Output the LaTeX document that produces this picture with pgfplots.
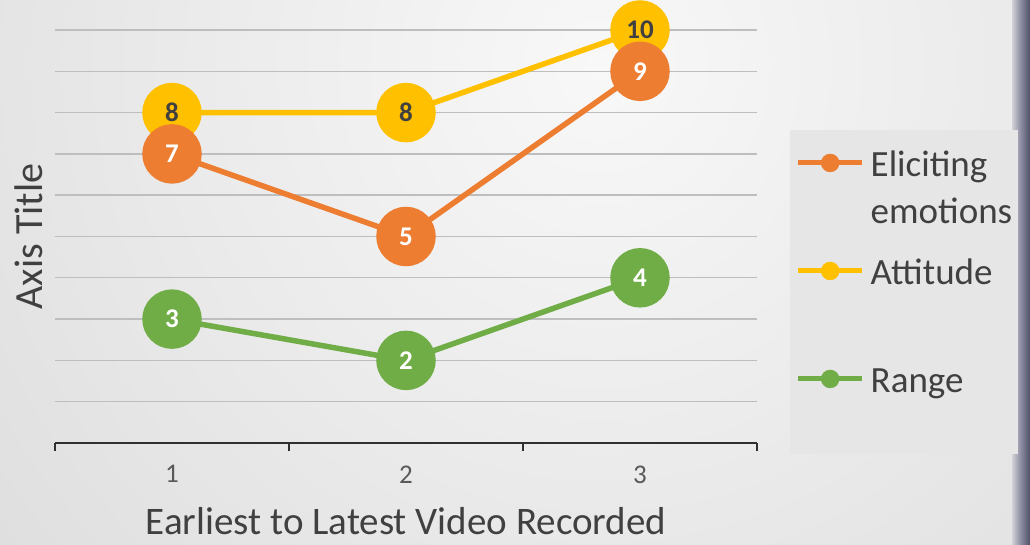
\documentclass[border=0pt]{standalone}
\usepackage{pgfplots}
\pgfplotsset{compat=1.18}
\usepackage{fontspec}
\setmainfont{Carlito}
\definecolor{cOrange}{HTML}{ED7D31}
\definecolor{cGold}{HTML}{FFC000}
\definecolor{cGreen}{HTML}{70AD47}
\definecolor{gridgray}{HTML}{BEBEBE}
\definecolor{axisdark}{HTML}{303030}
\definecolor{txtdark}{HTML}{404040}
\definecolor{ticktxt}{HTML}{595959}
\definecolor{bgin}{HTML}{F8F8F8}
\definecolor{bgout}{HTML}{C4C4C4}
\definecolor{legfill}{HTML}{E6E6E6}
\definecolor{stripA}{HTML}{D2D2D6}
\definecolor{stripB}{HTML}{8A8AA0}
\definecolor{stripC}{HTML}{4E4E66}
\pgfdeclareradialshading{bgrad}{\pgfpoint{0bp}{0bp}}{color(0bp)=(bgin); color(50bp)=(bgout)}
\begin{document}
\begin{tikzpicture}
\fill[bgout] (0bp,0bp) rectangle (1030bp,545bp);
\begin{scope}
\clip (0bp,0bp) rectangle (1030bp,545bp);
\shade[shading=bgrad] (600bp,480bp) circle (800bp);
\end{scope}
\shade[left color=stripA, right color=stripB] (1012bp,0bp) rectangle (1021bp,545bp);
\shade[left color=stripB, right color=stripC] (1021bp,0bp) rectangle (1030bp,545bp);
\begin{axis}[
  at={(55bp,102bp)}, anchor=south west,
  scale only axis, width=702bp, height=413bp,
  xmin=0.5, xmax=3.5, ymin=0, ymax=10,
  clip=false,
  /pgf/number format/assume math mode=true,
  axis x line*=bottom, axis y line*=left,
  y axis line style={draw=none},
  x axis line style={line width=2.6bp, color=axisdark},
  xtick={1,2,3}, minor xtick={0.5,1.5,2.5,3.5},
  major x tick style={draw=none},
  minor x tick style={line width=2.2bp, color=axisdark},
  xtick align=outside, minor tick length=8bp, major tick length=0pt,
  ytick={1,...,10}, yticklabels={}, ytick style={draw=none},
  ymajorgrids, major grid style={line width=1.4bp, color=gridgray},
  xticklabel style={font=\fontsize{27bp}{27bp}\selectfont, text=ticktxt, yshift=-19bp},
  xlabel={Earliest to Latest Video Recorded},
  ylabel={Axis Title},
  xlabel style={at={(axis description cs:0.5,-0.19)}, anchor=center, inner sep=0pt, font=\fontsize{39bp}{39bp}\selectfont, text=txtdark},
  ylabel style={at={(axis description cs:-0.037,0.5)}, anchor=center, font=\fontsize{40bp}{40bp}\selectfont, text=txtdark},
  legend style={at={(axis description cs:1.047,0.758)}, anchor=north west, draw=none, fill=legfill,
    inner sep=0pt, outer sep=0pt, row sep=0pt, column sep=6bp,
    font=\fontsize{37bp}{47bp}\selectfont, text=txtdark,
    cells={anchor=base west}, nodes={inner sep=0pt, text height=47bp, text depth=61bp}},
]
\addplot[forget plot, cGold, line width=5.5bp, mark=*, mark size=27bp, mark options={draw=none, fill=cGold},
  nodes near coords, every node near coord/.append style={anchor=center, text=txtdark, font=\bfseries\fontsize{27bp}{27bp}\selectfont}]
  coordinates {(1,8) (2,8) (3,10)};
\addplot[forget plot, cOrange, line width=5.5bp, mark=*, mark size=27bp, mark options={draw=none, fill=cOrange},
  nodes near coords, every node near coord/.append style={anchor=center, text=white, font=\bfseries\fontsize{27bp}{27bp}\selectfont}]
  coordinates {(1,7) (2,5) (3,9)};
\addplot[forget plot, cGreen, line width=5.5bp, mark=*, mark size=27bp, mark options={draw=none, fill=cGreen},
  nodes near coords, every node near coord/.append style={anchor=center, text=white, font=\bfseries\fontsize{27bp}{27bp}\selectfont}]
  coordinates {(1,3) (2,2) (3,4)};
\addlegendimage{legend image code/.code={\path (-8bp,0bp) (64bp,0bp); \draw[cOrange, line width=5bp] (0bp,14bp) -- (64bp,14bp); \fill[cOrange] (32bp,14bp) circle (9bp);}}
\addlegendentry{\makebox[147bp][l]{\begin{tabular}[t]{@{}l@{}}Eliciting\\emotions\end{tabular}}}
\addlegendimage{legend image code/.code={\path (-8bp,0bp) (64bp,0bp); \draw[cGold, line width=5bp] (0bp,14bp) -- (64bp,14bp); \fill[cGold] (32bp,14bp) circle (9bp);}}
\addlegendentry{\makebox[147bp][l]{Attitude}}
\addlegendimage{legend image code/.code={\path (-8bp,0bp) (64bp,0bp); \draw[cGreen, line width=5bp] (0bp,14bp) -- (64bp,14bp); \fill[cGreen] (32bp,14bp) circle (9bp);}}
\addlegendentry{\makebox[147bp][l]{Range}}
\end{axis}
\pgfresetboundingbox
\path[use as bounding box] (0bp,0bp) rectangle (1030bp,545bp);
\end{tikzpicture}
\end{document}
